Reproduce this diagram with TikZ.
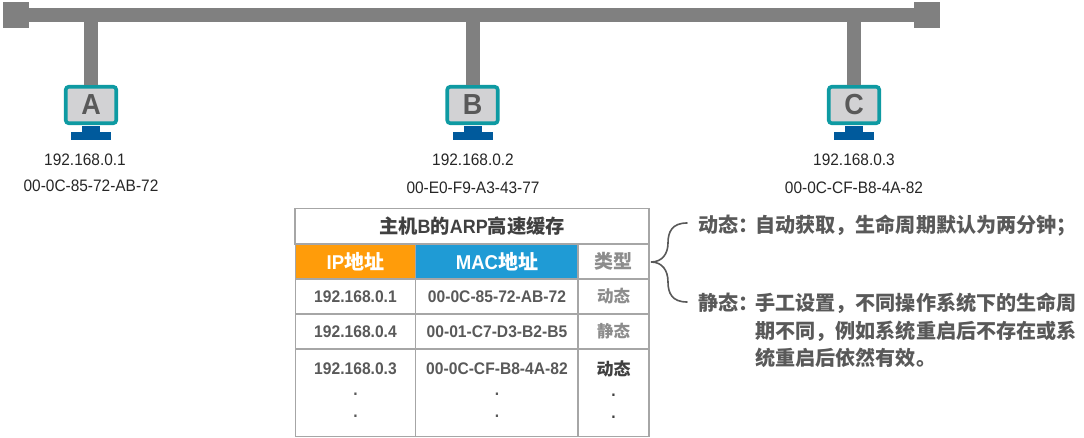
\documentclass[tikz,border=0pt]{standalone}
\usepackage{fontspec}
\setmainfont[FakeStretch=0.93]{Liberation Sans}
\newfontfamily\cjk{Noto Sans CJK SC}
\newcommand{\notehead}[1]{#1\kern-3.3pt }
\newcommand{\lastdot}{.\rule[-6pt]{0pt}{6pt}}
\definecolor{busgray}{HTML}{808080}
\definecolor{teal1}{HTML}{0E9AA2}
\definecolor{screen1}{HTML}{D2D2D4}
\definecolor{letter1}{HTML}{595959}
\definecolor{stand1}{HTML}{005A9C}
\definecolor{grid1}{HTML}{A6A6A6}
\definecolor{orange1}{HTML}{FF9C0A}
\definecolor{blue1}{HTML}{1F9BD5}
\definecolor{txt1}{HTML}{595959}
\definecolor{txt2}{HTML}{8C8C8C}
\definecolor{txt3}{HTML}{404040}
\tikzset{
  terminal/.style={fill=busgray,minimum size=26,inner sep=0,outer sep=0},
  busline/.style={draw=busgray,line width=14},
  monitor/.style={draw=teal1,fill=screen1,line width=3.6,rounded corners=3,minimum width=50.5,minimum height=36.5,inner sep=0,outer sep=1.8,text=letter1,font=\fontsize{29}{29}\selectfont\bfseries},
  standtop/.style={fill=stand1,minimum width=18,minimum height=6,inner sep=0,outer sep=0},
  standbase/.style={fill=stand1,minimum width=40,minimum height=8,inner sep=0,outer sep=0},
  addr/.style={inner sep=0,font=\fontsize{16.6}{23}\selectfont,text=black!85,align=center},
  cell/.style={draw=grid1,line width=1.2,inner sep=0,outer sep=0,align=center,text=txt1,font=\fontsize{16.8}{22}\selectfont\bfseries},
  headcell/.style={cell,text=white,font=\fontsize{20}{20}\selectfont\bfseries},
  note/.style={inner sep=0,anchor=north west,align=left,text=txt1,font=\fontsize{20.1}{27.6}\selectfont\bfseries\cjk},
  bracepath/.style={draw=txt1,line width=1.6,line cap=round}
}
\begin{document}
\begin{tikzpicture}[x=1pt,y=-1pt]
\useasboundingbox (0,0) rectangle (1084,438);
% bus
\node[terminal] (tl) at (16,15) {};
\node[terminal] (tr) at (927,15) {};
\draw[busline] (tl.center) -- (tr.center);
% hosts
\node[monitor] (ma) at (91,105) {A};
\node[monitor] (mb) at (472.5,105) {B};
\node[monitor] (mc) at (854,105) {C};
\foreach \m in {a,b,c}{
  \draw[busline] (m\m.north |- tl.center) -- (m\m.north);
  \node[standtop] (st\m) at ([yshift=-24.5]m\m.center) {};
  \node[standbase] (sb\m) at ([yshift=-31]m\m.center) {};
}
\node[addr] (ia) at (85,160) {192.168.0.1};
\node[addr] (aa) at (91,185.5) {00-0C-85-72-AB-72};
\node[addr] (ib) at (473,160) {192.168.0.2};
\node[addr] (ab) at (473,187.5) {00-E0-F9-A3-43-77};
\node[addr] (ic) at (854,160) {192.168.0.3};
\node[addr] (ac) at (854,187.5) {00-0C-CF-B8-4A-82};
% table
\node[cell,minimum width=354,minimum height=35.5,text=txt3,font=\fontsize{19.3}{20}\selectfont\bfseries] (title) at (472,226.5) {{\cjk 主机}B{\cjk 的}ARP{\cjk 高速缓存}};
\node[headcell,fill=orange1,minimum width=120.5,minimum height=35] (h1) at (355.5,261.5) {IP{\cjk 地址}};
\node[headcell,fill=blue1,minimum width=162.5,minimum height=35] (h2) at (497,261.5) {MAC{\cjk 地址}};
\node[headcell,text=txt2,font=\fontsize{19}{20}\selectfont\bfseries,minimum width=71,minimum height=35] (h3) at (613.5,261.5) {\cjk 类型};
\node[cell,minimum width=120.5,minimum height=35] (a1) at (355.5,296.5) {192.168.0.1};
\node[cell,minimum width=162.5,minimum height=35] (a2) at (497,296.5) {00-0C-85-72-AB-72};
\node[cell,text=txt2,minimum width=71,minimum height=35,font=\fontsize{16.5}{20}\selectfont\bfseries\cjk] (a3) at (613.5,296.5) {动态};
\node[cell,minimum width=120.5,minimum height=35] (b1) at (355.5,331.5) {192.168.0.4};
\node[cell,minimum width=162.5,minimum height=35] (b2) at (497,331.5) {00-01-C7-D3-B2-B5};
\node[cell,text=txt2,minimum width=71,minimum height=35,font=\fontsize{16.5}{20}\selectfont\bfseries\cjk] (b3) at (613.5,331.5) {静态};
\node[cell,minimum width=120.5,minimum height=87.5] (c1) at (355.5,392.75) {192.168.0.3\\[-1pt].\\\lastdot};
\node[cell,minimum width=162.5,minimum height=87.5] (c2) at (497,392.75) {00-0C-CF-B8-4A-82\\[-1pt].\\\lastdot};
\node[cell,text=txt3,minimum width=71,minimum height=87.5] (c3) at (613.5,392.75) {{\fontsize{17}{22}\selectfont\cjk 动态}\\[-1pt].\\\lastdot};
% brace
\coordinate (bt) at (687,223);
\coordinate (bm) at (651,262);
\coordinate (bb) at (687,302);
\draw[bracepath] (bt) .. controls (672,223) and (668,232) .. (668,243) .. controls (668,254) and (662,262) .. (bm) .. controls (662,262) and (668,270) .. (668,282) .. controls (668,293) and (672,302) .. (bb);
% notes
\node[note] (n1) at (698,215) {\notehead{动态：}自动获取，生命周期默认为两分钟；};
\node[note] (n2) at (698,293) {\notehead{静态：}手工设置，不同操作系统下的生命周\\\phantom{\notehead{静态：}}期不同，例如系统重启后不存在或系\\\phantom{\notehead{静态：}}统重启后依然有效。};
\end{tikzpicture}
\end{document}
